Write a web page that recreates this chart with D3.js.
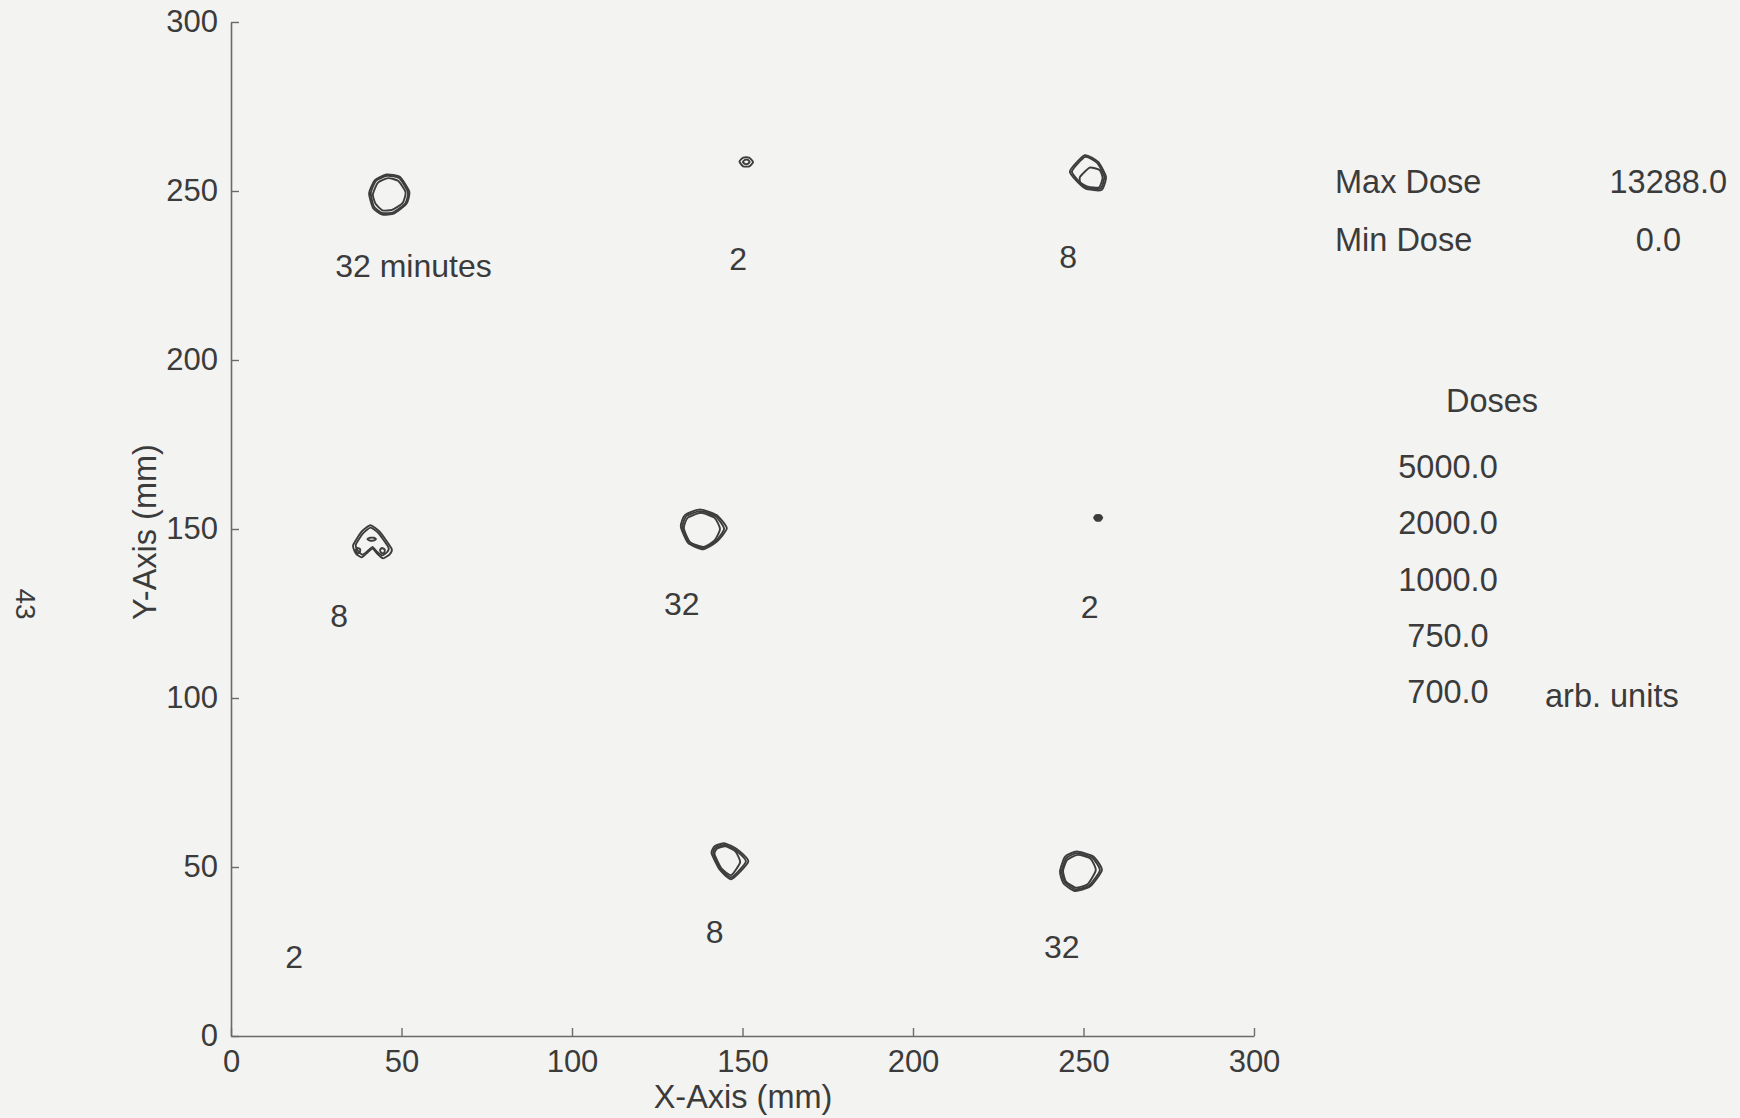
<!DOCTYPE html>
<html>
<head>
<meta charset="utf-8">
<script src="https://cdn.jsdelivr.net/npm/d3@7"></script>
<style>
  html, body { margin: 0; padding: 0; background: #f3f3f2; }
  svg { display: block; }
  text { font-family: "Liberation Sans", Arial, Helvetica, sans-serif; fill: #3b3b3b; }
</style>
</head>
<body>
<svg id="chart" width="1740" height="1118"></svg>
<script>
// Axis ticks (mm)
const xTicks = [0, 50, 100, 150, 200, 250, 300];
const yTicks = [0, 50, 100, 150, 200, 250, 300];

// Dose summary and contour levels (arb. units)
const summaryNames = ["Max Dose", "Min Dose"];
const summaryValues = [13288.0, 0.0];
const doseLevels = [5000.0, 2000.0, 1000.0, 750.0, 700.0];

// Exposure spot centres (mm)
const spotX = [46.4, 151.1, 251.3, 41.3, 138.4, 254.3, 146.0, 249.0];
const spotY = [249.0, 258.6, 255.3, 146.4, 150.0, 153.3, 51.8, 48.7];

// Iso-dose contour rings per spot: level and outline offsets (mm) from the spot centre
const spotRings = [
  [
    { level: 700, pts: [[-5.9,0.3],[-4.2,4.2],[-0.8,5.9],[3.1,5.2],[5.9,0.8],[5.1,-2.7],[1.5,-5.6],[-2.0,-6.0],[-4.7,-4.1]] },
    { level: 750, pts: [[-5.4,0.4],[-3.9,4.0],[-0.6,5.5],[3.0,4.8],[5.5,0.6],[4.7,-2.7],[1.2,-5.3],[-2.1,-5.5],[-4.5,-3.6]] },
    { level: 1000, pts: [[-4.8,0.0],[-3.3,3.5],[-0.3,4.8],[2.6,4.0],[4.8,0.6],[3.9,-2.6],[0.8,-4.6],[-2.0,-4.7],[-4.0,-2.8]] }
  ],
  [
    { level: 700, pts: [[-2.0,0.1],[-0.9,1.3],[0.8,1.3],[2.0,0.0],[0.9,-1.3],[-0.9,-1.3]] },
    { level: 750, pts: [[-1.0,0.0],[-0.4,0.6],[0.5,0.6],[1.0,0.0],[0.4,-0.6],[-0.4,-0.6]] }
  ],
  [
    { level: 700, pts: [[-0.9,5.3],[3.0,3.3],[5.3,-1.1],[4.0,-5.0],[-0.9,-4.5],[-5.3,0.4]] },
    { level: 750, pts: [[-0.8,4.8],[2.7,3.0],[4.8,-1.0],[3.7,-4.6],[-0.8,-4.1],[-4.7,0.4]] },
    { level: 1000, pts: [[-2.3,-1.1],[0.5,1.6],[3.4,0.9],[4.3,-1.4],[3.3,-4.2],[0.0,-4.0],[-2.2,-2.8]] }
  ],
  [
    { level: 700, pts: [[-0.4,4.7],[2.3,2.8],[5.8,-2.2],[5.3,-3.8],[3.3,-5.1],[1.4,-3.5],[0.2,-2.2],[-1.1,-3.2],[-3.0,-4.8],[-4.7,-3.6],[-5.5,-1.2],[-3.0,2.8]] },
    { level: 750, pts: [[-0.4,4.0],[2.0,2.3],[4.9,-1.9],[4.5,-3.2],[3.0,-4.2],[1.3,-2.9],[0.2,-1.7],[-1.0,-2.7],[-2.7,-4.0],[-4.0,-3.0],[-4.7,-1.0],[-2.6,2.3]] },
    { level: 1000, pts: [[-1.3,0.6],[-0.5,1.0],[0.6,1.0],[1.2,0.6],[0.5,0.2],[-0.6,0.2]] },
    { level: 1000, pts: [[-4.7,-2.6],[-4.2,-2.0],[-3.4,-2.4],[-3.6,-3.4],[-4.4,-3.5]] },
    { level: 1000, pts: [[2.4,-2.6],[3.0,-2.0],[3.8,-2.5],[3.6,-3.5],[2.8,-3.5]] }
  ],
  [
    { level: 700, pts: [[-6.5,0.7],[-5.3,4.1],[-0.9,5.8],[4.0,4.1],[7.0,0.2],[4.0,-3.8],[0.1,-6.0],[-4.3,-4.2]] },
    { level: 750, pts: [[-6.0,0.6],[-4.9,3.8],[-0.8,5.3],[3.7,3.8],[6.2,0.1],[3.8,-3.5],[0.1,-5.6],[-4.0,-3.9]] },
    { level: 1000, pts: [[-5.6,0.2],[-4.5,3.3],[-0.6,4.8],[3.4,3.3],[5.0,0.0],[3.4,-3.4],[0.2,-5.3],[-3.8,-3.9]] }
  ],
  [
    { level: 700, pts: [[-1.2,0.0],[-0.6,0.8],[0.6,0.8],[1.2,0.0],[0.6,-0.8],[-0.6,-0.8]], solid: true }
  ],
  [
    { level: 700, pts: [[-5.1,2.3],[-4.1,4.4],[-1.2,5.2],[2.3,3.5],[5.7,-0.2],[0.8,-5.4],[-2.6,-2.7]] },
    { level: 750, pts: [[-4.6,2.2],[-3.8,4.0],[-1.1,4.7],[2.1,3.1],[5.0,-0.2],[0.8,-4.8],[-2.4,-2.4]] },
    { level: 1000, pts: [[-4.2,2.0],[-3.4,3.7],[-1.0,4.3],[1.9,2.8],[3.3,-0.4],[0.7,-4.2],[-2.2,-2.2]] }
  ],
  [
    { level: 700, pts: [[-5.9,0.0],[-4.4,4.4],[-1.0,5.9],[3.9,4.4],[6.4,0.4],[2.9,-4.5],[-1.5,-5.8],[-4.9,-3.5]] },
    { level: 750, pts: [[-5.4,0.0],[-4.0,4.0],[-0.9,5.4],[3.6,4.0],[5.8,0.3],[2.6,-4.2],[-1.4,-5.3],[-4.5,-3.2]] },
    { level: 1000, pts: [[-5.0,0.2],[-3.8,3.4],[-0.7,4.9],[3.0,3.8],[4.6,0.4],[2.2,-3.8],[-1.3,-4.8],[-4.2,-2.9]] }
  ]
];

// Exposure-time annotations (minutes) placed in data coordinates (mm)
const labelText = ["32 minutes", "2", "8", "8", "32", "2", "8", "32", "2"];
const labelX = [53.5, 148.7, 245.5, 31.7, 132.2, 251.8, 141.8, 243.6, 18.5];
const labelY = [224.6, 226.7, 227.2, 121.0, 124.6, 123.7, 27.5, 23.1, 20.1];

const svg = d3.select("#chart");

const x = d3.scaleLinear().domain([0, 300]).range([231, 1254]);
const y = d3.scaleLinear().domain([0, 300]).range([1036, 22]);

// Axes with inward ticks
const xAxis = d3.axisBottom(x).tickValues(xTicks).tickSizeInner(-8).tickSizeOuter(0).tickPadding(14);
const yAxis = d3.axisLeft(y).tickValues(yTicks).tickSizeInner(-8).tickSizeOuter(0).tickPadding(13);

const gx = svg.append("g").attr("transform", `translate(0,${y(0)})`).call(xAxis);
const gy = svg.append("g").attr("transform", `translate(${x(0)},0)`).call(yAxis);
[gx, gy].forEach(g => {
  g.select(".domain").attr("stroke", "#6a6a6a").attr("stroke-width", 1.6);
  g.selectAll(".tick line").attr("stroke", "#6a6a6a").attr("stroke-width", 1.4);
  g.selectAll(".tick text").attr("font-size", 31).attr("fill", "#3b3b3b")
    .style("font-family", "'Liberation Sans', Arial, sans-serif");
});

// Axis titles
svg.append("text").attr("x", 743).attr("y", 1108).attr("text-anchor", "middle")
  .attr("font-size", 32.5).text("X-Axis (mm)");
svg.append("text").attr("transform", "translate(156,532) rotate(-90)").attr("text-anchor", "middle")
  .attr("font-size", 32.5).text("Y-Axis (mm)");

// Iso-dose contours
const ring = d3.line()
  .x(d => d[0]).y(d => d[1])
  .curve(d3.curveCardinalClosed.tension(0.45));

const spots = svg.append("g").attr("class", "contours");
spotRings.forEach((rings, i) => {
  rings.forEach(r => {
    const pts = r.pts.map(p => [x(spotX[i] + p[0]), y(spotY[i] + p[1])]);
    spots.append("path")
      .attr("d", ring(pts))
      .attr("fill", r.solid ? "#3d3d3d" : "none")
      .attr("stroke", "#3d3d3d")
      .attr("stroke-width", 1.9)
      .attr("stroke-linejoin", "round");
  });
});

// Exposure-time labels
svg.append("g").selectAll("text").data(labelText).join("text")
  .attr("x", (d, i) => x(labelX[i]))
  .attr("y", (d, i) => y(labelY[i]))
  .attr("text-anchor", "middle")
  .attr("font-size", 32)
  .text(d => d);

// Dose summary panel
const summaryY = [193, 251];
const summaryValueX = [1727, 1681];
summaryNames.forEach((n, i) => {
  svg.append("text").attr("x", 1335).attr("y", summaryY[i]).attr("font-size", 32.5).text(n);
  svg.append("text").attr("x", summaryValueX[i]).attr("y", summaryY[i]).attr("text-anchor", "end")
    .attr("font-size", 32.5).text(summaryValues[i].toFixed(1));
});

svg.append("text").attr("x", 1492).attr("y", 412).attr("text-anchor", "middle")
  .attr("font-size", 32.5).text("Doses");

const levelY = d3.scalePoint().domain(doseLevels).range([478, 703]);
svg.append("g").selectAll("text").data(doseLevels).join("text")
  .attr("x", 1448)
  .attr("y", d => levelY(d))
  .attr("text-anchor", "middle")
  .attr("font-size", 32.5)
  .text(d => d.toFixed(1));
svg.append("text").attr("x", 1545).attr("y", 707).attr("font-size", 32.5).text("arb. units");

// Page number in the margin
svg.append("text").attr("transform", "translate(16,604) rotate(90)").attr("text-anchor", "middle")
  .attr("font-size", 28).attr("fill", "#555").text("43");
</script>
</body>
</html>
